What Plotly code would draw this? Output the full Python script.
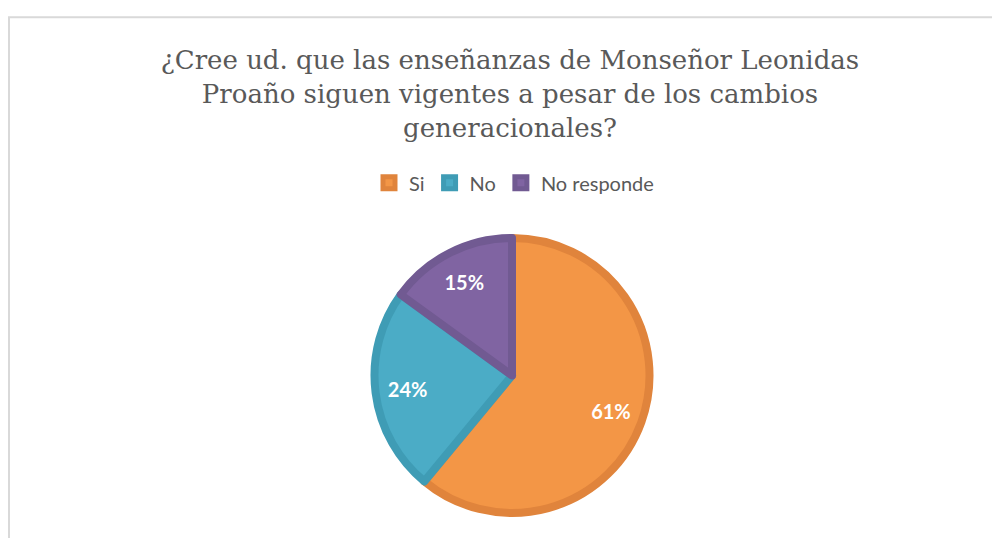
import plotly.graph_objects as go

categories = ["Si", "No", "No responde"]
values = [61, 24, 15]
fill_colors = ["#F39646", "#4BACC6", "#8064A2"]
edge_colors = ["#E0843C", "#3F9CB5", "#715A92"]

title_text = "¿Cree ud. que las enseñanzas de Monseñor Leonidas<br>Proaño siguen vigentes a pesar de los cambios<br>generacionales?"

dom = dict(x=[0.3665, 0.6415], y=[0.0614, 0.5726])

fig = go.Figure()
fig.add_trace(go.Pie(
    labels=categories,
    values=values,
    sort=False,
    direction="clockwise",
    rotation=0,
    marker=dict(colors=fill_colors, line=dict(color=edge_colors, width=8)),
    textinfo="none",
    domain=dom,
    hoverinfo="label+percent",
))
# transparent ring overlay used only to place the percentage labels further out
fig.add_trace(go.Pie(
    labels=categories,
    values=values,
    sort=False,
    direction="clockwise",
    rotation=0,
    hole=0.53,
    marker=dict(colors=["rgba(0,0,0,0)"] * 3, line=dict(width=0)),
    texttemplate="%{value}%",
    textposition="inside",
    insidetextorientation="horizontal",
    insidetextfont=dict(color="white", size=20, family="Lato", weight="bold"),
    domain=dom,
    showlegend=False,
    hoverinfo="skip",
))

fig.update_layout(
    width=1000, height=538,
    margin=dict(l=0, r=0, t=0, b=0),
    paper_bgcolor="white",
    plot_bgcolor="white",
    title=dict(
        text=title_text,
        x=0.502, xanchor="center",
        y=0.886, yanchor="top",
        font=dict(family="DejaVu Serif", size=26, color="#595959"),
    ),
    legend=dict(
        orientation="h",
        x=0.506, xanchor="center",
        y=0.675, yanchor="middle",
        font=dict(family="Lato", size=20, color="#595959"),
        itemwidth=30,
        traceorder="normal",
    ),
    showlegend=True,
    shapes=[dict(
        type="rect", xref="paper", yref="paper",
        x0=0.001, x1=1.05, y0=-0.05, y1=0.983,
        line=dict(color="#D9D9D9", width=2), fillcolor="rgba(0,0,0,0)",
        layer="below",
    )],
)

fig.write_html("out.html")
